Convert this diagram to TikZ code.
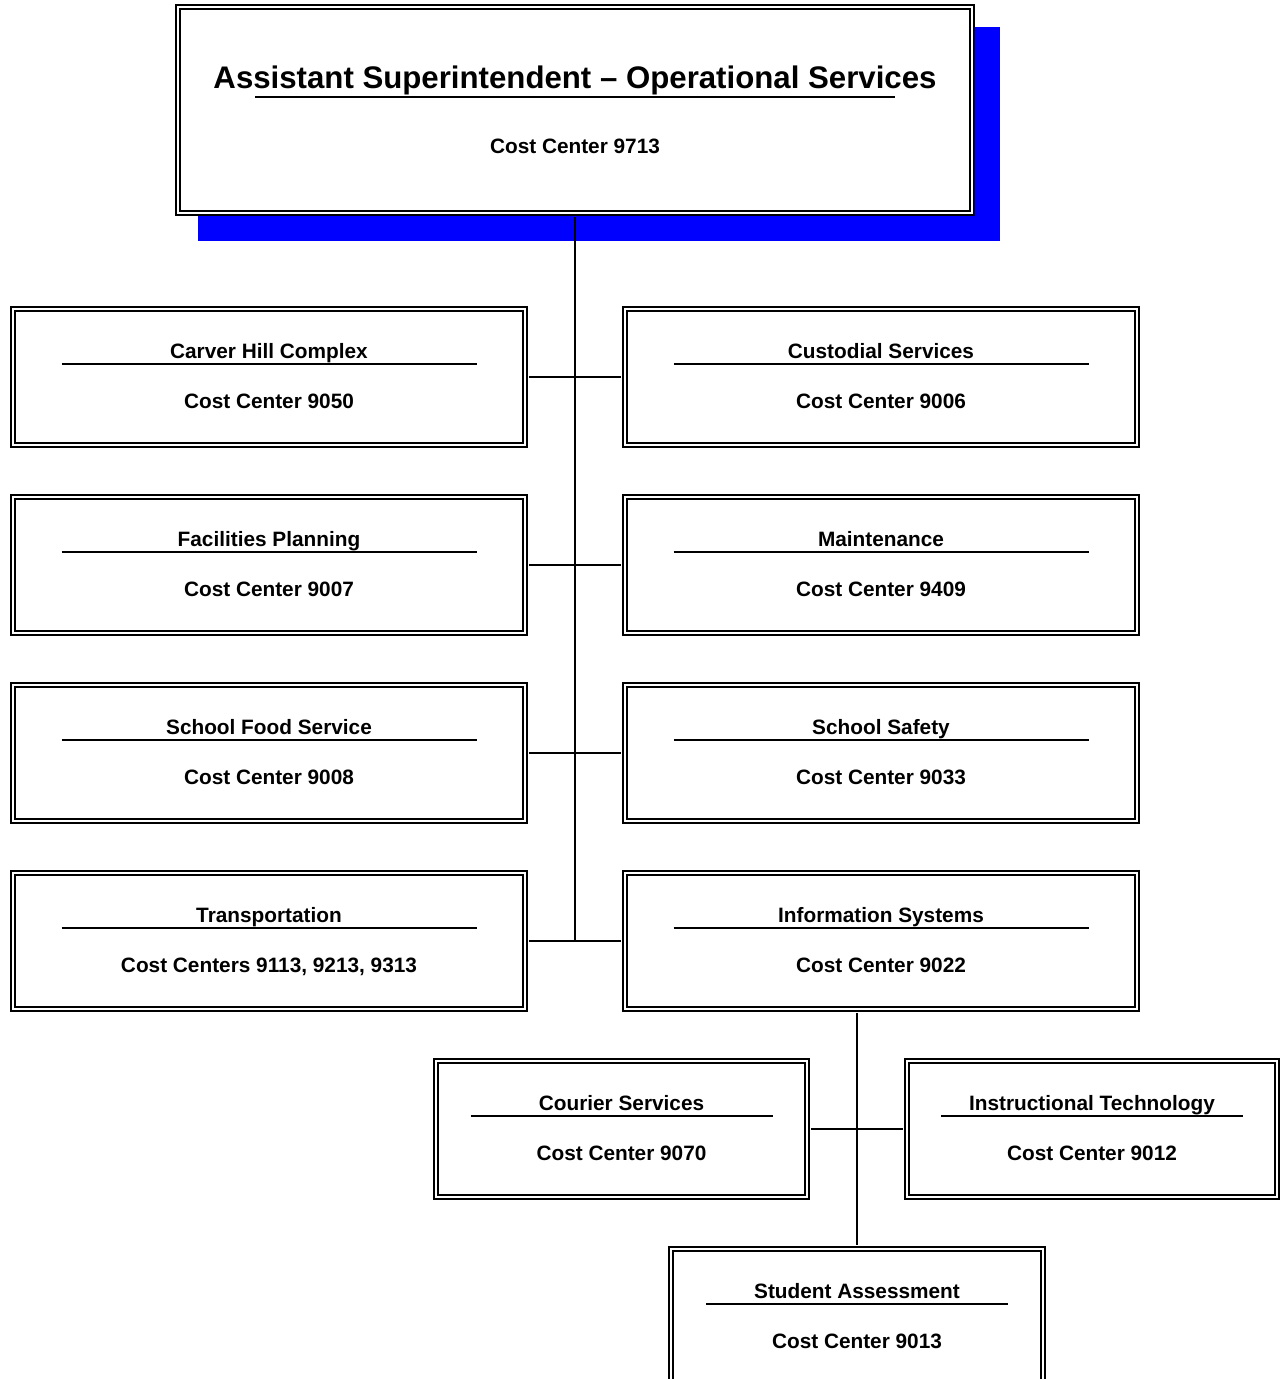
\documentclass[tikz,border=0pt]{standalone}
\usepackage{fontspec}
\setmainfont{Liberation Sans}
\usetikzlibrary{calc}
\newcommand{\orgbox}[7]{%
  \node[#4] (#1) at (#2,#3) {};
  \node[tt] (#1t) at ($(#1)+(0,-18.5)$) {#5};
  \draw[ul] ($(#1)+(-#7,-13)$) -- ($(#1)+(#7,-13)$);
  \node[tt] (#1c) at ($(#1)+(0,31.5)$) {#6};
}
\begin{document}
\begin{tikzpicture}[x=0.75pt,y=-0.75pt,
  dbl/.style={draw, double, double distance=1.5pt, line width=1.5pt, fill=white, inner sep=0pt},
  wide/.style={dbl, minimum width=384pt, minimum height=102pt},
  narrow/.style={dbl, minimum width=278.25pt, minimum height=102pt},
  topb/.style={dbl, minimum width=595.5pt, minimum height=154.5pt},
  tt/.style={font=\bfseries\fontsize{15.6pt}{18pt}\selectfont, anchor=base, inner sep=0pt},
  big/.style={font=\bfseries\fontsize{23.4pt}{28pt}\selectfont, anchor=base, inner sep=0pt},
  ul/.style={line width=1.2pt},
  conn/.style={line width=1.4pt},
]
\useasboundingbox (0,0) rectangle (1281,1379);
\fill[blue] (198,27) rectangle (1000,241);
\node[topb] (top) at (575,110) {};
\node[big] (topt) at (575,88.5) {Assistant Superintendent -- Operational Services};
\draw[ul] (255,97) -- (895,97);
\node[tt] (topc) at (575,153.5) {Cost Center 9713};

\orgbox{chc}{269}{377}{wide}{Carver Hill Complex}{Cost Center 9050}{207.5}
\orgbox{cus}{881}{377}{wide}{Custodial Services}{Cost Center 9006}{207.5}
\orgbox{fp}{269}{565}{wide}{Facilities Planning}{Cost Center 9007}{207.5}
\orgbox{mnt}{881}{565}{wide}{Maintenance}{Cost Center 9409}{207.5}
\orgbox{sfs}{269}{753}{wide}{School Food Service}{Cost Center 9008}{207.5}
\orgbox{ss}{881}{753}{wide}{School Safety}{Cost Center 9033}{207.5}
\orgbox{tr}{269}{941}{wide}{Transportation}{Cost Centers 9113, 9213, 9313}{207.5}
\orgbox{is}{881}{941}{wide}{Information Systems}{Cost Center 9022}{207.5}
\orgbox{cs}{621.5}{1129}{narrow}{Courier Services}{Cost Center 9070}{151}
\orgbox{it}{1092}{1129}{narrow, minimum width=277.5pt}{Instructional Technology}{Cost Center 9012}{151}
\orgbox{sa}{857}{1317}{narrow, minimum width=279pt}{Student Assessment}{Cost Center 9013}{151}

\coordinate (trunk) at (575,941);
\draw[conn] ([yshift=-2.2pt]top.south) -- (trunk);
\draw[conn] ([xshift=2.2pt]chc.east) -- ([xshift=-2.2pt]cus.west);
\draw[conn] ([xshift=2.2pt]fp.east) -- ([xshift=-2.2pt]mnt.west);
\draw[conn] ([xshift=2.2pt]sfs.east) -- ([xshift=-2.2pt]ss.west);
\draw[conn] ([xshift=2.2pt]tr.east) -- ([xshift=-2.2pt]is.west);
\coordinate (isb) at ([yshift=-2.2pt]sa.north |- is.south);
\draw[conn] (isb) -- ([yshift=2.2pt]sa.north);
\draw[conn] ([xshift=2.2pt]cs.east) -- ([xshift=-2.2pt]it.west);
\end{tikzpicture}
\end{document}
